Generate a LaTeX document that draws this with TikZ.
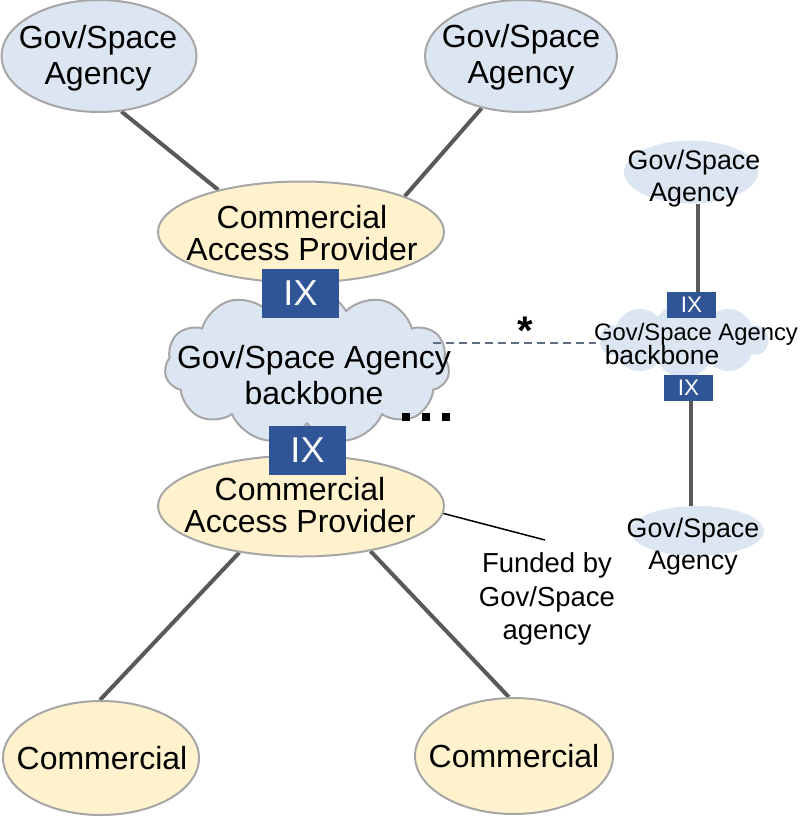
\documentclass[tikz,border=0pt]{standalone}
\usepackage{fontspec}
\setmainfont{Liberation Sans}
\usetikzlibrary{shapes.geometric,shapes.symbols}
\pgfdeclarelayer{background}
\pgfsetlayers{background,main}
\definecolor{agencyblue}{RGB}{220,230,242}
\definecolor{provideryellow}{RGB}{255,242,204}
\definecolor{rimgrey}{RGB}{166,166,166}
\definecolor{ixblue}{RGB}{47,85,151}
\definecolor{linkgrey}{RGB}{89,89,89}
\definecolor{dashgrey}{RGB}{96,110,130}

\begin{document}
\begin{tikzpicture}[x=1pt,y=-1pt,
  agency/.style={ellipse, fill=agencyblue, draw=rimgrey, line width=2pt, inner sep=0pt},
  provider/.style={ellipse, fill=provideryellow, draw=rimgrey, line width=2pt, inner sep=0pt},
  smallagency/.style={ellipse, fill=agencyblue, inner sep=0pt, minimum width=134pt, minimum height=63pt},
  ixbig/.style={rectangle, fill=ixblue, text=white, inner sep=0pt, minimum width=77pt, minimum height=49pt, font=\fontsize{36}{36}\selectfont},
  ixsmall/.style={rectangle, fill=ixblue, text=white, inner sep=0pt, minimum width=49pt, minimum height=26pt, font=\fontsize{22.5}{22.5}\selectfont},
  bigtext/.style={align=center, inner sep=0pt, font=\fontsize{32}{36}\selectfont},
  captext/.style={align=center, inner sep=0pt, font=\fontsize{32}{31.5}\selectfont},
  smalltext/.style={align=center, inner sep=0pt, font=\fontsize{26.8}{32}\selectfont},
  link/.style={draw=linkgrey, line width=4pt},
  dotbox/.style={rectangle, fill=black, inner sep=0pt, minimum size=8pt}
]
\useasboundingbox (0,0) rectangle (800,817);

% outer agencies and commercial end points
\node[agency, minimum width=195pt, minimum height=112pt] (ag1) at (99,56) {};
\node[agency, minimum width=192pt, minimum height=112pt] (ag2) at (521,56) {};
\node[provider, minimum width=286pt, minimum height=101pt] (cap1) at (301,232) {};
\node[provider, minimum width=286pt, minimum height=101pt] (cap2) at (301,506) {};
\node[provider, minimum width=196pt, minimum height=114pt] (com1) at (101,758) {};
\node[provider, minimum width=198pt, minimum height=116pt] (com2) at (514,756) {};

% backbone clouds
\node[cloud, cloud puffs=11, cloud puff arc=120, cloud ignores aspect,
      minimum width=285pt, minimum height=155pt, fill=agencyblue, draw=rimgrey,
      line width=2pt, inner sep=0pt] (bigcloud) at (307,366) {};
\node[cloud, cloud puffs=10, cloud puff arc=120, cloud ignores aspect,
      minimum width=168pt, minimum height=76pt, fill=agencyblue, inner sep=0pt] (smallcloud) at (684,340) {};

% small agencies on the right
\node[smallagency] (sa1) at (691,172) {};
\node[smallagency, minimum height=50pt] (sa2) at (697,531) {};

% exchange points
\node[ixbig] (ix1) at (300.5,293.5) {IX};
\node[ixbig] (ix2) at (307.5,450.5) {IX};
\node[ixsmall] (ixs1) at (691.5,305) {IX};
\node[ixsmall] (ixs2) at (688.5,387.5) {IX};

% labels
\node[bigtext] (tag1) at (98,58) {Gov/Space\\Agency};
\node[bigtext] (tag2) at (521,57) {Gov/Space\\Agency};
\node[captext] (tcap1) at (302,233) {Commercial\\Access Provider};
\node[captext] (tcap2) at (300,505) {Commercial\\Access Provider};
\node[bigtext] (tcloud) at (314,375) {Gov/Space Agency\\backbone};
\node[bigtext] (tcom1) at (102,758) {Commercial};
\node[bigtext] (tcom2) at (514,756) {Commercial};
\node[smalltext] (tsa1) at (694,179) {Gov/Space\\Agency};
\node[smalltext] (tsa2) at (693,547) {Gov/Space\\Agency};
\node[inner sep=0pt, font=\fontsize{23.8}{23.8}\selectfont] (tsc1) at (696,334) {Gov/Space Agency};
\node[inner sep=0pt, font=\fontsize{26.4}{26.4}\selectfont] (tsc2) at (662,355) {backbone};
\node[align=center, inner sep=0pt, font=\fontsize{27.5}{33.5}\selectfont] (funded) at (547,599) {Funded by\\Gov/Space\\agency};
\node[anchor=base, inner sep=0pt, font=\fontsize{40}{40}\bfseries\selectfont] (star) at (525,344) {*};

% continuation marks
\node[dotbox] (dot1) at (406,416.5) {};
\node[dotbox] (dot2) at (426,416.5) {};
\node[dotbox] (dot3) at (446,416.5) {};

% connectors
\coordinate (dashL) at (433,343);
\coordinate (dashR) at (596,343);
\coordinate (fundtip) at (545,540);
\begin{pgfonlayer}{background}
  \draw[link] (ag1.-68) -- (cap1.153);
  \draw[link] (ag2.-127) -- (cap1.19);
  \draw[link] (cap2.-143) -- (com1.91);
  \draw[link] (cap2.-33) -- (com2.95);
  \draw[link] ([xshift=6pt]ixs1.north) -- ([xshift=6pt]ixs1.north |- sa1.south);
  \draw[link] ([xshift=2pt]ixs2.south) -- ([xshift=2pt]ixs2.south |- sa2.north);
\end{pgfonlayer}
\draw[dashgrey, line width=1.5pt, dash pattern=on 8pt off 5pt] (dashL) -- (dashR);
\draw[black, line width=1.5pt] (cap2.-3) -- (fundtip);
\end{tikzpicture}
\end{document}
